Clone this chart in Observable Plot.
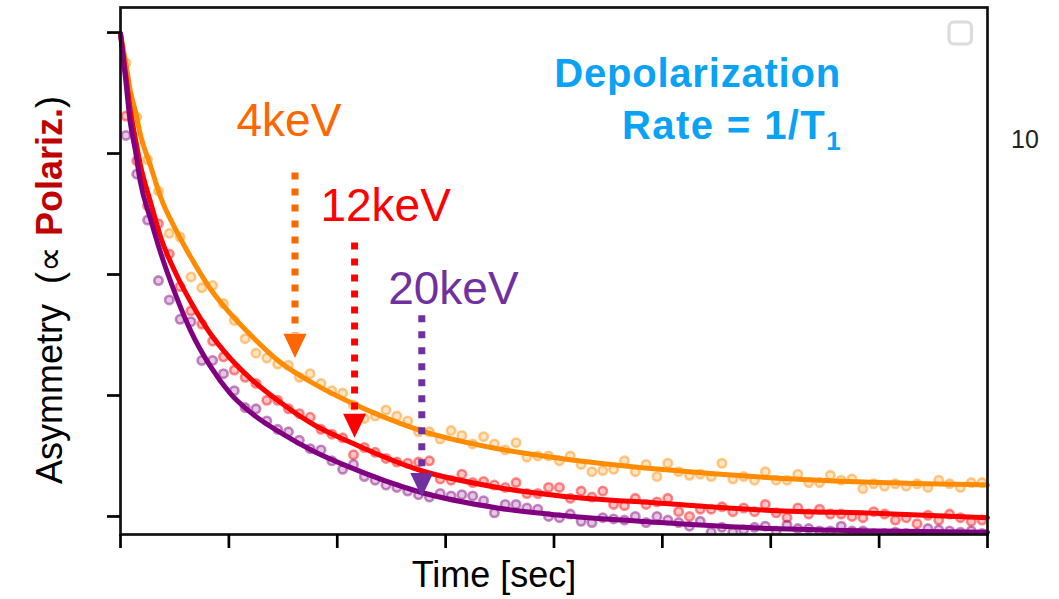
<!DOCTYPE html>
<html>
<head>
<meta charset="utf-8">
<script src="https://cdn.jsdelivr.net/npm/d3@7"></script>
<script src="https://cdn.jsdelivr.net/npm/@observablehq/plot@0.6"></script>
<style>
  html, body { margin: 0; padding: 0; background: #fff; }
  #chart svg { display: block; }
</style>
</head>
<body>
<div id="chart"></div>
<script>
// ---- data (time in arbitrary units, asymmetry in %) ----
const binTimes = [
  0.05,0.15,0.25,0.35,0.45,0.55,0.65,0.75,0.85,0.95,
  1.05,1.15,1.25,1.35,1.45,1.55,1.65,1.75,1.85,1.95,
  2.05,2.15,2.25,2.35,2.45,2.55,2.65,2.75,2.85,2.95,
  3.05,3.15,3.25,3.35,3.45,3.55,3.65,3.75,3.85,3.95,
  4.05,4.15,4.25,4.35,4.45,4.55,4.65,4.75,4.85,4.95,
  5.05,5.15,5.25,5.35,5.45,5.55,5.65,5.75,5.85,5.95,
  6.05,6.15,6.25,6.35,6.45,6.55,6.65,6.75,6.85,6.95,
  7.05,7.15,7.25,7.35,7.45,7.55,7.65,7.75,7.85,7.95];

const orangePts = [
  37.5,33.0,29.5,26.9,23.4,23.1,19.8,18.9,19.1,17.6,
  16.2,14.7,13.5,13.1,12.6,12.5,11.5,11.8,11.0,10.4,
  10.2,9.2,8.1,8.3,8.8,8.3,7.9,7.0,7.0,6.4,
  7.1,6.7,6.0,6.6,6.0,5.5,6.1,4.9,5.0,5.0,
  4.6,5.0,4.3,3.7,3.8,3.9,4.6,3.7,4.3,3.3,
  4.4,3.7,3.4,3.5,3.3,4.4,3.1,3.3,3.0,3.7,
  3.0,3.0,3.5,2.8,2.8,3.4,3.0,3.1,2.3,2.7,
  2.5,2.7,2.5,2.7,2.4,3.0,2.7,2.4,2.8,2.8];

const redPts = [
  33.1,29.4,25.7,24.2,21.7,19.0,17.0,15.9,14.5,13.2,
  12.1,11.5,11.0,9.6,9.6,8.9,8.5,8.2,7.2,6.8,
  6.5,5.1,5.7,5.3,4.8,4.5,4.4,4.5,4.6,3.1,
  3.0,3.5,2.8,2.9,2.6,2.4,2.8,1.9,1.9,2.4,
  2.4,1.5,2.1,1.6,2.1,1.0,0.9,1.5,1.0,1.2,
  1.5,0.4,0.0,0.6,0.6,0.8,0.4,0.7,0.4,1.0,
  0.3,-0.1,0.7,0.2,0.6,0.2,0.2,0.0,-0.1,0.4,
  0.2,-0.3,-0.1,-0.6,0.1,-0.3,0.2,-0.1,-0.4,-0.3];

const purplePts = [
  31.5,28.3,24.5,19.5,17.9,16.3,16.1,12.9,12.9,11.8,
  10.4,9.0,8.9,7.9,7.2,7.0,6.3,5.6,5.5,4.6,
  3.9,4.3,3.3,3.0,2.6,2.4,2.1,1.8,1.6,1.9,
  1.7,1.8,1.7,1.3,0.3,1.0,1.0,0.7,0.6,0.0,
  -0.1,0.2,-0.4,-0.5,-0.1,-0.2,-0.3,0.0,-0.5,0.0,
  -0.3,-0.5,-0.8,-0.4,-1.3,-0.9,-1.3,-1.1,-0.9,-0.8,
  -1.2,-0.7,-1.0,-1.0,-1.2,-1.2,-0.8,-1.2,-1.2,-1.4,
  -1.4,-1.3,-1.4,-1.4,-1.0,-1.1,-1.2,-1.3,-1.2,-1.4];

const fitTimes  = [0, 0.05, 0.09, 0.14, 0.18, 0.28, 0.37, 0.51, 0.65, 0.83, 1.01, 1.2, 1.48, 1.8, 2.08, 2.77, 3.48, 4.06, 4.98, 6.0, 7.01, 8.0];
const orangeFit = [39.9, 37.4, 35.2, 33.4, 31.7, 28.9, 26.4, 23.7, 21.4, 18.8, 16.8, 15.0, 12.7, 10.9, 9.6, 7.1, 5.6, 4.8, 3.9, 3.2, 2.8, 2.6];
const redFit    = [39.9, 36.4, 33.6, 31.1, 29.2, 25.9, 23.1, 20.1, 17.7, 15.1, 13.1, 11.4, 9.4, 7.5, 6.3, 3.8, 2.4, 1.7, 1.1, 0.5, 0.25, -0.1];
const purpleFit = [39.9, 35.9, 32.6, 30.1, 27.8, 24.5, 21.8, 18.3, 15.3, 12.4, 10.2, 8.6, 6.9, 5.3, 4.2, 2.0, 0.7, 0.1, -0.5, -1.0, -1.2, -1.3];

const seriesNames  = ["4keV", "12keV", "20keV"];
const curveColors  = ["#ff8c00", "#ff0000", "#800080"];
const labelColors  = ["#ff6600", "#ff0000", "#7030a0"];

// annotation arrows (time, top of dotted line, base of head, tip of head)
const arrowTimes = [1.61, 2.16, 2.78];
const arrowTop   = [28.4, 22.6, 16.6];
const arrowBase  = [15.1, 8.5, 3.6];
const arrowTip   = [13.1, 6.5, 1.6];

// energy labels (left edge time, vertical centre)
const labelX = [1.07, 1.845, 2.47];
const labelY = [32.7, 25.6, 18.8];

const xTicks = [0, 1, 2, 3, 4, 5, 6, 7, 8];
const yTicks = [0, 10, 20, 30, 40];

// ---- build tables ----
const ptsBySeries = [orangePts, redPts, purplePts];
const fitBySeries = [orangeFit, redFit, purpleFit];
const points = seriesNames.flatMap((s, i) => binTimes.map((t, k) => ({series: s, t, v: ptsBySeries[i][k]})));
const fits = seriesNames.map((s, i) => fitTimes.map((t, k) => ({series: s, t, v: fitBySeries[i][k]})));
const arrows = seriesNames.map((s, i) => ({x: arrowTimes[i], top: arrowTop[i], base: arrowBase[i], tip: arrowTip[i], color: labelColors[i]}));
const labels = seriesNames.map((s, i) => ({label: s, x: labelX[i], y: labelY[i], color: labelColors[i]}));

const downHead = {
  draw(context, size) {
    const k = Math.sqrt(size);
    context.moveTo(0, 0);
    context.lineTo(-0.5 * k, -1.05 * k);
    context.lineTo(0.5 * k, -1.05 * k);
    context.closePath();
  }
};

const FONT = "'Liberation Sans', Arial, Helvetica, sans-serif";

const chart = Plot.plot({
  width: 1059,
  height: 599,
  marginLeft: 120,
  marginRight: 72,
  marginTop: 7,
  marginBottom: 65,
  x: {domain: [0, 8]},
  y: {domain: [-1.49, 42.07]},
  color: {type: "identity"},
  style: {fontFamily: FONT, color: "black", background: "white"},
  marks: [
    ...seriesNames.map((s, i) => Plot.dot(points.filter(d => d.series === s), {
      x: "t", y: "v", r: 4.2, stroke: curveColors[i], strokeWidth: 2.6,
      strokeOpacity: 0.45, fill: curveColors[i], fillOpacity: 0.22, clip: true
    })),
    ...fits.map((f, i) => Plot.line(f, {
      x: "t", y: "v", stroke: curveColors[i], strokeWidth: 5, curve: "monotone-x"
    })),
    Plot.ruleX(arrows, {x: "x", y1: "top", y2: "base", stroke: "color", strokeWidth: 7, strokeDasharray: "7 9"}),
    Plot.dot(arrows, {x: "x", y: "tip", symbol: downHead, r: 13, fill: "color", stroke: null}),
    Plot.text(labels, {
      x: "x", y: "y", text: "label", fill: "color", fontSize: 46,
      textAnchor: "start", lineAnchor: "middle", fontFamily: FONT
    }),
    Plot.frame({stroke: "#111", strokeWidth: 2.7}),
    Plot.axisX({ticks: xTicks, tickSize: 14, tickFormat: () => "", strokeWidth: 2.7, label: null}),
    Plot.axisY({ticks: yTicks, tickSize: 13, tickFormat: () => "", strokeWidth: 2.7, label: null})
  ]
});

document.getElementById("chart").appendChild(chart);

// ---- rich-text annotations ----
const svg = d3.select(chart);
const ann = svg.append("g").attr("font-family", FONT).attr("text-anchor", "start");

ann.append("text")
  .attr("x", 841).attr("y", 87)
  .attr("text-anchor", "end")
  .attr("font-size", 40).attr("font-weight", "bold")
  .attr("letter-spacing", 0.8)
  .attr("fill", "#0aa2f5")
  .text("Depolarization");

const rate = ann.append("text")
  .attr("x", 842).attr("y", 139)
  .attr("text-anchor", "end")
  .attr("font-size", 40).attr("font-weight", "bold")
  .attr("letter-spacing", 1.4)
  .attr("fill", "#0aa2f5");
rate.append("tspan").text("Rate = 1/T");
rate.append("tspan").attr("font-size", 26).attr("dy", 11).text("1");

ann.append("text")
  .attr("x", 494).attr("y", 587)
  .attr("text-anchor", "middle")
  .attr("font-size", 36)
  .attr("fill", "#000")
  .text("Time [sec]");

const ylab = ann.append("text")
  .attr("transform", "translate(62,290) rotate(-90)")
  .attr("text-anchor", "middle")
  .attr("font-size", 36)
  .attr("fill", "#000");
ylab.append("tspan").text("Asymmetry\u00a0\u00a0(\u221d\u00a0");
ylab.append("tspan").attr("font-weight", "bold").attr("fill", "#c00000").text("Polariz.");
ylab.append("tspan").text(")");

ann.append("text")
  .attr("x", 1011).attr("y", 148)
  .attr("text-anchor", "start")
  .attr("font-size", 25)
  .attr("fill", "#222")
  .text("10");

ann.append("rect")
  .attr("x", 949).attr("y", 22).attr("width", 22.5).attr("height", 22)
  .attr("rx", 5)
  .attr("fill", "none").attr("stroke", "#dcdcdc").attr("stroke-width", 3.2);
</script>
</body>
</html>
